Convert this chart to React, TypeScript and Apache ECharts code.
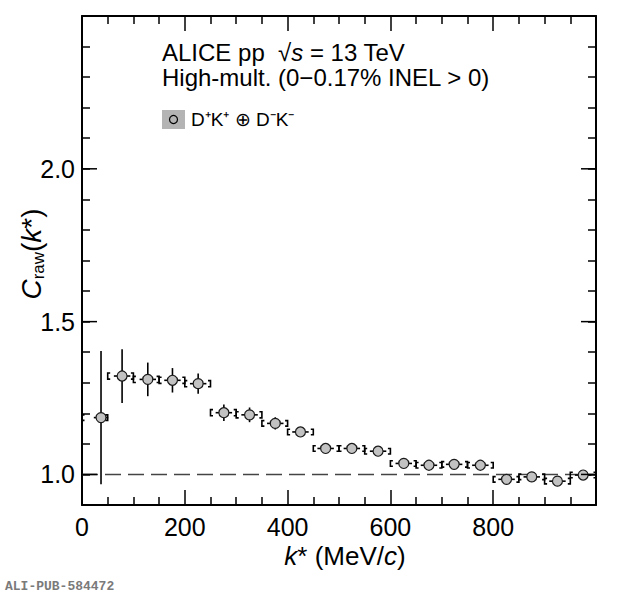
import React, { useEffect, useRef } from "react";
import * as echarts from "echarts";

// ---- data ----
const kStar = [37, 78, 128, 176, 226, 276, 326, 376, 425, 474, 525, 576, 626, 675, 724, 775, 826, 875, 925, 975];
const cRaw = [1.186, 1.322, 1.311, 1.308, 1.297, 1.202, 1.195, 1.167, 1.139, 1.085, 1.085, 1.076, 1.036, 1.03, 1.033, 1.03, 0.984, 0.992, 0.978, 0.998];
const statErr = [0.218, 0.088, 0.055, 0.04, 0.033, 0.027, 0.024, 0.02, 0.016, 0.013, 0.011, 0.01, 0.009, 0.009, 0.009, 0.009, 0.009, 0.009, 0.009, 0.009];
const systErr = [0.009, 0.01, 0.01, 0.01, 0.01, 0.01, 0.01, 0.009, 0.009, 0.009, 0.009, 0.009, 0.009, 0.009, 0.009, 0.009, 0.009, 0.009, 0.009, 0.009];
const binLow = [0, 50, 100, 150, 200, 250, 300, 350, 400, 450, 500, 550, 600, 650, 700, 750, 800, 850, 900, 950];
const binHigh = [50, 100, 150, 200, 250, 300, 350, 400, 450, 500, 550, 600, 650, 700, 750, 800, 850, 900, 950, 1000];
const kErr = [14, 16, 16, 16, 16, 16, 16, 16, 16, 16, 16, 16, 16, 16, 16, 16, 16, 16, 16, 16];
const unityLine = [[0, 1], [1000, 1]];
const yMajorTicks = [1.0, 1.5, 2.0];

const FONT = "'Liberation Sans', Arial, Helvetica, sans-serif";

export default function App() {
  const ref = useRef<HTMLDivElement>(null);

  useEffect(() => {
    document.body.style.margin = "0";
    const chart = echarts.init(ref.current!, null, { renderer: "svg" });

    const errData = kStar.map((k, i) => [k, cRaw[i], statErr[i], systErr[i], binLow[i], binHigh[i], kErr[i]]);

    const axisCommonX = {
      type: "value" as const,
      min: 0,
      max: 1000,
      interval: 200,
      axisLine: { show: true, onZero: false, lineStyle: { color: "#000", width: 2 } },
      axisTick: { show: true, inside: true, length: 15, lineStyle: { color: "#000", width: 1.5 } },
      minorTick: { show: true, splitNumber: 4, length: 8, lineStyle: { color: "#000", width: 1.5 } },
      splitLine: { show: false },
      minorSplitLine: { show: false },
    };
    const axisCommonY = {
      type: "value" as const,
      min: 0.9,
      max: 2.5,
      interval: 0.1,
      axisLine: { show: true, onZero: false, lineStyle: { color: "#000", width: 2 } },
      axisTick: { show: true, inside: true, length: 8, lineStyle: { color: "#000", width: 1.5 } },
      splitLine: { show: false },
    };

    chart.setOption({
      animation: false,
      backgroundColor: "#fff",
      grid: { left: 82, right: 24, top: 16, bottom: 91, containLabel: false },
      xAxis: [
        {
          ...axisCommonX,
          position: "bottom",
          axisLabel: {
            show: true,
            color: "#000",
            fontSize: 25,
            fontFamily: FONT,
            margin: 9,
            showMaxLabel: false,
            formatter: (v: number) => (v >= 1000 ? "" : String(v)),
          },
        },
        { ...axisCommonX, position: "top", axisLabel: { show: false } },
      ],
      yAxis: [
        {
          ...axisCommonY,
          position: "left",
          axisLabel: {
            show: true,
            color: "#000",
            fontSize: 25,
            fontFamily: FONT,
            margin: 7,
            formatter: (v: number) => {
              const t = Math.round(v * 10);
              return t % 5 === 0 && t < 25 ? (t / 10).toFixed(1) : "";
            },
          },
        },
        { ...axisCommonY, position: "right", axisLabel: { show: false } },
      ],
      series: [
        {
          type: "line",
          data: unityLine,
          symbol: "none",
          silent: true,
          z: 2,
          lineStyle: { color: "#444", width: 1.6, type: [16, 7] },
        },
        {
          type: "custom",
          data: yMajorTicks.map((v) => [0, v]),
          silent: true,
          clip: false,
          z: 5,
          renderItem: (params: any, api: any) => {
            const cs = params.coordSys;
            const p = api.coord([0, api.value(1)]);
            const style = { stroke: "#000", lineWidth: 1.5 };
            return {
              type: "group",
              children: [
                { type: "line", shape: { x1: cs.x, y1: p[1], x2: cs.x + 15, y2: p[1] }, style },
                { type: "line", shape: { x1: cs.x + cs.width - 15, y1: p[1], x2: cs.x + cs.width, y2: p[1] }, style },
              ],
            };
          },
        },
        {
          type: "custom",
          data: errData,
          silent: true,
          clip: false,
          z: 3,
          renderItem: (_params: any, api: any) => {
            const x = api.value(0);
            const y = api.value(1);
            const e = api.value(2);
            const s = api.value(3);
            const lo = api.value(4);
            const hi = api.value(5);
            const xe = api.value(6);
            const top = api.coord([x, y + e]);
            const bot = api.coord([x, y - e]);
            const left = api.coord([x - xe, y]);
            const right = api.coord([x + xe, y]);
            const bl = api.coord([lo, y + s]);
            const bl2 = api.coord([lo, y - s]);
            const br = api.coord([hi, y + s]);
            const br2 = api.coord([hi, y - s]);
            const st = { stroke: "#000", lineWidth: 1.6 };
            const bs = { stroke: "#000", lineWidth: 1.6, fill: "none" };
            const serif = 2.5;
            return {
              type: "group",
              children: [
                { type: "line", shape: { x1: top[0], y1: top[1], x2: bot[0], y2: bot[1] }, style: st },
                { type: "line", shape: { x1: left[0], y1: left[1], x2: right[0], y2: right[1] }, style: st },
                {
                  type: "polyline",
                  shape: { points: [[bl[0] + serif, bl[1]], [bl[0], bl[1]], [bl2[0], bl2[1]], [bl2[0] + serif, bl2[1]]] },
                  style: bs,
                },
                {
                  type: "polyline",
                  shape: { points: [[br[0] - serif, br[1]], [br[0], br[1]], [br2[0], br2[1]], [br2[0] - serif, br2[1]]] },
                  style: bs,
                },
              ],
            };
          },
        },
        {
          type: "scatter",
          data: kStar.map((k, i) => [k, cRaw[i]]),
          symbol: "circle",
          symbolSize: 10,
          z: 4,
          silent: true,
          itemStyle: { color: "#c2c2c2", borderColor: "#1a1a1a", borderWidth: 1.2, opacity: 1 },
        },
      ],
      graphic: [
        {
          type: "text",
          left: 162,
          top: 40,
          style: {
            text: "{n|ALICE pp  √}{i|s}{n| = 13 TeV}",
            rich: {
              n: { fontSize: 24, fontFamily: FONT, fill: "#000" },
              i: { fontSize: 24, fontFamily: FONT, fontStyle: "italic", fill: "#000" },
            },
          },
        },
        {
          type: "text",
          left: 162,
          top: 65,
          style: {
            text: "High-mult. (0−0.17% INEL > 0)",
            fontSize: 24,
            fontFamily: FONT,
            fill: "#000",
          },
        },
        {
          type: "rect",
          shape: { x: 162, y: 110, width: 23, height: 19 },
          style: { fill: "#b4b4b4" },
        },
        {
          type: "circle",
          shape: { cx: 173.5, cy: 119.5, r: 4 },
          style: { fill: "none", stroke: "#000", lineWidth: 1.2 },
        },
        {
          type: "text",
          left: 191,
          top: 110,
          style: {
            text: "D⁺K⁺ ⊕ D⁻K⁻",
            fontSize: 19,
            fontFamily: FONT,
            fill: "#000",
          },
        },
        {
          type: "text",
          x: 31,
          y: 254,
          rotation: Math.PI / 2,
          style: {
            text: "{c|C}{s|raw}{n|(}{i|k}{n|*)}",
            align: "center",
            verticalAlign: "middle",
            rich: {
              c: { fontSize: 28, fontFamily: FONT, fontStyle: "italic", fill: "#000", lineHeight: 32 },
              s: { fontSize: 17, fontFamily: FONT, fill: "#000", verticalAlign: "bottom", lineHeight: 22 },
              n: { fontSize: 28, fontFamily: FONT, fill: "#000", lineHeight: 32 },
              i: { fontSize: 28, fontFamily: FONT, fontStyle: "italic", fill: "#000", lineHeight: 32 },
            },
          },
        },
        {
          type: "text",
          x: 345,
          y: 556,
          style: {
            text: "{i|k}{n|* (MeV/}{i|c}{n|)}",
            align: "center",
            verticalAlign: "middle",
            rich: {
              n: { fontSize: 26, fontFamily: FONT, fill: "#000" },
              i: { fontSize: 26, fontFamily: FONT, fontStyle: "italic", fill: "#000" },
            },
          },
        },
        {
          type: "text",
          left: 5,
          top: 580,
          style: {
            text: "ALI-PUB-584472",
            fontSize: 13,
            fontWeight: "bold",
            fontFamily: "'Liberation Mono', 'DejaVu Sans Mono', monospace",
            fill: "#7a7a7a",
          },
        },
      ],
    });

    return () => chart.dispose();
  }, []);

  return <div ref={ref} style={{ width: 620, height: 596 }} />;
}
